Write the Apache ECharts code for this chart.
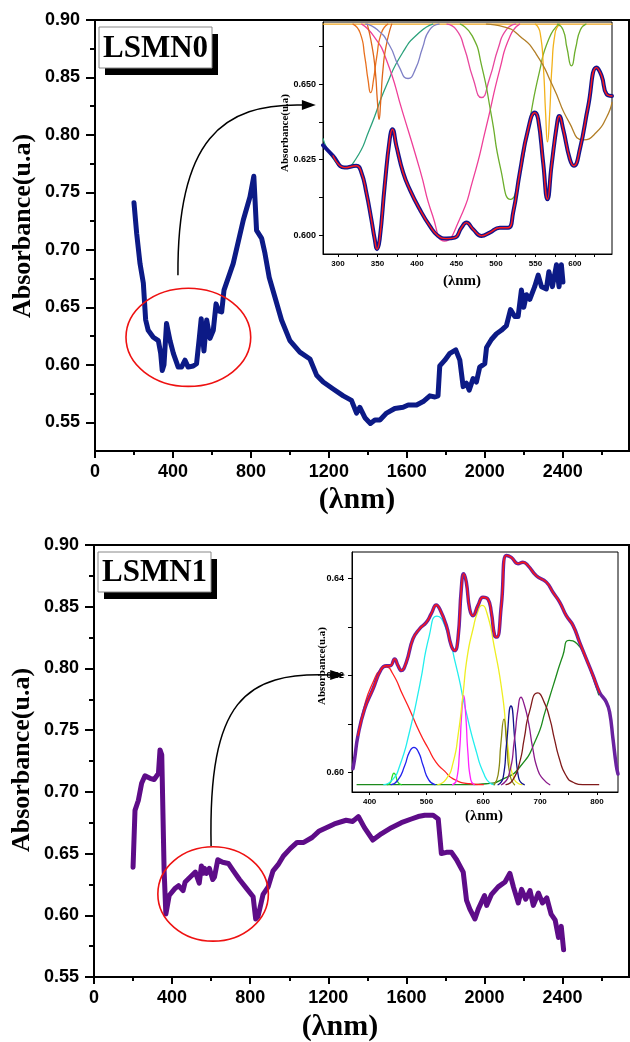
<!DOCTYPE html>
<html><head><meta charset="utf-8">
<script src="https://cdn.jsdelivr.net/npm/echarts@6/dist/echarts.min.js"></script>
<style>html,body{margin:0;padding:0;background:#fff}#c{width:630px;height:1042px}</style>
</head><body><div id="c"></div>
<script>
// ---------------- DATA ----------------
// Main spectrum LSMN0 [lambda nm, absorbance]
const lsmn0 = [[200,0.741],[214,0.714],[231,0.688],[248,0.671],[260,0.639],[273,0.630],[299,0.624],[325,0.621],[337,0.610],[345,0.595],[354,0.600],[367,0.636],[385,0.621],[402,0.610],[427,0.598],[444,0.598],[462,0.604],[478,0.598],[504,0.599],[521,0.601],[535,0.623],[545,0.640],[559,0.612],[573,0.639],[590,0.623],[607,0.630],[621,0.653],[634,0.647],[650,0.646],[662,0.665],[709,0.688],[761,0.726],[795,0.746],[815,0.764],[829,0.717],[855,0.710],[872,0.697],[894,0.676],[923,0.659],[957,0.639],[1000,0.621],[1051,0.611],[1103,0.605],[1137,0.591],[1171,0.585],[1222,0.579],[1274,0.573],[1316,0.569],[1342,0.558],[1359,0.563],[1385,0.554],[1413,0.549],[1436,0.552],[1462,0.552],[1496,0.558],[1538,0.562],[1581,0.563],[1607,0.565],[1650,0.565],[1684,0.568],[1718,0.573],[1744,0.572],[1760,0.573],[1769,0.599],[1795,0.604],[1821,0.610],[1851,0.613],[1872,0.604],[1889,0.581],[1906,0.584],[1920,0.578],[1940,0.588],[1957,0.585],[1974,0.598],[2000,0.601],[2009,0.615],[2034,0.622],[2060,0.627],[2085,0.630],[2111,0.634],[2132,0.648],[2154,0.642],[2171,0.642],[2188,0.665],[2200,0.650],[2214,0.661],[2231,0.657],[2256,0.668],[2274,0.678],[2291,0.668],[2316,0.666],[2329,0.681],[2347,0.668],[2368,0.687],[2381,0.668],[2393,0.687],[2401,0.672]];
// Main spectrum LSMN1
const lsmn1 = [[200,0.639],[210,0.685],[227,0.693],[244,0.707],[261,0.713],[287,0.711],[308,0.710],[313,0.709],[330,0.715],[338,0.734],[347,0.730],[359,0.637],[368,0.601],[374,0.606],[385,0.616],[416,0.622],[433,0.624],[456,0.620],[467,0.627],[493,0.631],[519,0.635],[539,0.626],[550,0.640],[559,0.634],[566,0.638],[576,0.634],[591,0.638],[608,0.629],[617,0.631],[634,0.645],[659,0.643],[688,0.642],[714,0.636],[745,0.629],[780,0.622],[815,0.615],[828,0.597],[840,0.599],[866,0.617],[892,0.623],[917,0.636],[943,0.641],[970,0.648],[1005,0.654],[1040,0.659],[1074,0.659],[1117,0.663],[1151,0.668],[1231,0.674],[1291,0.677],[1325,0.676],[1354,0.680],[1385,0.671],[1428,0.661],[1471,0.666],[1523,0.671],[1574,0.675],[1625,0.678],[1660,0.680],[1694,0.681],[1737,0.681],[1763,0.678],[1779,0.650],[1805,0.651],[1831,0.651],[1857,0.645],[1891,0.635],[1908,0.612],[1925,0.605],[1951,0.597],[1968,0.605],[2000,0.616],[2011,0.608],[2036,0.617],[2070,0.623],[2105,0.627],[2130,0.634],[2148,0.623],[2173,0.610],[2190,0.621],[2211,0.613],[2233,0.620],[2250,0.608],[2276,0.618],[2297,0.610],[2319,0.614],[2341,0.601],[2362,0.596],[2379,0.582],[2393,0.591],[2405,0.572]];

// Inset (LSMN0) measured + fit
const inset0Main = [[281,0.6298],[293.7,0.6263],[308.4,0.6224],[323.2,0.6230],[329.6,0.6208],[335.9,0.6141],[342.2,0.6053],[346.5,0.5987],[349.4,0.5954],[352.8,0.5987],[359.1,0.6163],[365.5,0.6318],[368.9,0.6351],[373.9,0.6296],[382.4,0.6208],[390.8,0.6152],[403.5,0.6086],[416.2,0.6031],[426.7,0.5998],[437.3,0.5989],[447.9,0.5992],[456.3,0.6025],[462.7,0.6042],[471.1,0.6020],[481.7,0.5998],[492.2,0.6009],[504.9,0.6025],[515.5,0.6025],[521.8,0.6075],[530.3,0.6208],[540.8,0.6351],[549.3,0.6406],[553.5,0.6384],[559.8,0.6241],[565.3,0.6119],[570.4,0.6230],[577.6,0.6373],[580.1,0.6395],[585.2,0.6351],[593.6,0.6252],[598.7,0.6230],[606.3,0.6285],[616.9,0.6428],[627.4,0.6555],[633.8,0.6528],[640.1,0.6467],[647,0.6461]];
const inset0Baseline = [[281,0.6699],[647,0.6699]];
const inset0Orange1 = [[319,0.6699],[328,0.6670],[334,0.6590],[338,0.6515],[341.4,0.6472],[345,0.6515],[349,0.6590],[355,0.6670],[363,0.6699]];
const inset0Orange2 = [[337,0.6699],[343,0.6627],[347,0.6550],[350,0.6440],[352,0.6384],[354,0.6440],[357,0.6550],[361,0.6627],[368,0.6699]];
const inset0Lavender = [[335,0.6699],[350,0.6680],[365,0.6630],[377,0.6560],[388.7,0.6519],[398,0.6550],[407,0.6620],[416,0.6680],[428,0.6699]];
const inset0PinkBig = [[330,0.6699],[345,0.6660],[361,0.6583],[382,0.6406],[403.5,0.6219],[420,0.6064],[435,0.5981],[454,0.6053],[471,0.6185],[488,0.6362],[505,0.6550],[518,0.6660],[530,0.6699]];
const inset0PinkSmall = [[438,0.6699],[450,0.6680],[460,0.6620],[471,0.6520],[481.7,0.6456],[492,0.6520],[503,0.6620],[513,0.6680],[525,0.6699]];
const inset0Teal = [[281,0.6320],[295,0.6250],[308.4,0.6224],[322,0.6250],[340,0.6351],[361,0.6494],[382,0.6605],[403,0.6671],[420,0.6699]];
const inset0Green = [[455,0.6699],[470,0.6660],[482,0.6560],[494,0.6400],[506,0.6220],[518.4,0.6119],[530,0.6200],[542,0.6370],[555,0.6540],[567,0.6650],[580,0.6699]];
const inset0Gold = [[550,0.6699],[556,0.6670],[560,0.6560],[563,0.6400],[565.3,0.6309],[568,0.6400],[571,0.6560],[575,0.6670],[581,0.6699]];
const inset0GreenSmall = [[578,0.6699],[585,0.6680],[590,0.6620],[595.7,0.6561],[601,0.6620],[607,0.6680],[614,0.6699]];
const inset0Brown = [[488,0.6699],[510,0.6690],[530,0.6660],[551,0.6600],[572,0.6494],[593,0.6373],[611,0.6316],[627,0.6340],[640,0.6390],[647,0.6440]];

// Inset (LSMN1) measured + fit
const inset1Main = [[370.7,0.6008],[373.6,0.6028],[379.5,0.6076],[391.2,0.6131],[405.9,0.6172],[420.5,0.6213],[429.3,0.6220],[436.4,0.6220],[444,0.6234],[449.9,0.6220],[455.7,0.6210],[464.5,0.6227],[476.2,0.6275],[488,0.6296],[499.7,0.6309],[508.5,0.6327],[517.3,0.6345],[523.2,0.6337],[534.9,0.6303],[543.7,0.6261],[549.6,0.6251],[555.4,0.6275],[561.3,0.6378],[565.4,0.6409],[570.1,0.6392],[576,0.6337],[581.8,0.6323],[590.6,0.6344],[599.4,0.6361],[608.2,0.6357],[614.1,0.6330],[619.9,0.6282],[624,0.6279],[631.7,0.6344],[640.5,0.6447],[649.3,0.6443],[661,0.6430],[669.8,0.6433],[678.6,0.6426],[693.3,0.6405],[710.9,0.6392],[722.6,0.6371],[734.3,0.6351],[746,0.6323],[757.8,0.6303],[769.5,0.6268],[781.2,0.6234],[793,0.6200],[804.7,0.6165],[816.4,0.6145],[822.3,0.6124],[828.2,0.6069],[834,0.6014],[837,0.5997]];
const inset1Red = [[380,0.6076],[391,0.6138],[406,0.6186],[420,0.6213],[429,0.6217],[440,0.6205],[459,0.6158],[470,0.6131],[488,0.6083],[503,0.6050],[517,0.6021],[532,0.6003],[547,0.5987],[576,0.5977],[600,0.5975]];
const inset1GreenSmall = [[432,0.5975],[437,0.5980],[440,0.5993],[442.8,0.5999],[446,0.5993],[450,0.5980],[456,0.5975]];
const inset1Blue = [[438,0.5975],[450,0.5985],[462,0.6015],[470,0.6042],[478,0.6052],[486,0.6042],[494,0.6015],[504,0.5985],[515,0.5975]];
const inset1Cyan = [[425,0.5975],[440,0.5985],[453,0.6014],[470,0.6083],[488,0.6179],[505,0.6282],[518.5,0.6322],[533,0.6300],[552,0.6220],[570,0.6124],[588,0.6042],[600,0.6000],[612,0.5978],[620,0.5975]];
const inset1Magenta = [[546,0.5975],[553,0.5985],[558,0.6040],[562,0.6120],[565.4,0.6159],[569,0.6120],[573,0.6040],[578,0.5985],[584,0.5975]];
const inset1Yellow = [[520,0.5975],[535,0.5987],[547,0.6021],[556,0.6080],[564,0.6158],[572,0.6240],[582,0.6296],[590,0.6330],[597.7,0.6344],[606,0.6330],[619,0.6261],[634,0.6158],[643,0.6055],[654,0.5987],[668,0.5975]];
const inset1Olive = [[619,0.5975],[626,0.5995],[631,0.6060],[636.4,0.6110],[641,0.6060],[647,0.5995],[655,0.5975]];
const inset1Navy = [[626,0.5975],[635,0.5990],[641,0.6060],[648.7,0.6137],[656,0.6060],[662,0.5990],[672,0.5975]];
const inset1Purple = [[632,0.5975],[645,0.5995],[655,0.6070],[661,0.6130],[666.3,0.6155],[672,0.6140],[680,0.6100],[687,0.6050],[696,0.6005],[705,0.5987],[717,0.5975]];
const inset1Maroon = [[640,0.5975],[652,0.5985],[664,0.6021],[672,0.6070],[681,0.6124],[696,0.6164],[707,0.6145],[717,0.6111],[725,0.6070],[734,0.6028],[745,0.5995],[758,0.5980],[775,0.5975],[803,0.5975]];
const inset1Green = [[378,0.5975],[560,0.5975],[605,0.5977],[635,0.5987],[664,0.6011],[693,0.6069],[710,0.6130],[723,0.6179],[740,0.6241],[751,0.6272],[765,0.6265],[778,0.6240],[790,0.6205],[803,0.6160]];

// Tick labels / tick positions
const mainXLabels = [0,400,800,1200,1600,2000,2400];
const mainXMinor = [200,600,1000,1400,1800,2200,2600];
const top_YLabels = [0.55,0.60,0.65,0.70,0.75,0.80,0.85,0.90];
const top_YMinor = [0.575,0.625,0.675,0.725,0.775,0.825,0.875];
const bot_YLabels = [0.55,0.60,0.65,0.70,0.75,0.80,0.85,0.90];
const bot_YMinor = [0.575,0.625,0.675,0.725,0.775,0.825,0.875];
const in0XLabels = [300,350,400,450,500,550,600];
const in0XTicks = [300,325,350,375,400,425,450,475,500,525,550,575,600,625];
const in0YLabels = [0.600,0.625,0.650];
const in0YTicks = [0.6,0.6125,0.625,0.6375,0.65,0.6625];
const in1XLabels = [400,500,600,700,800];
const in1XTicks = [400,450,500,550,600,650,700,750,800];
const in1YLabels = [0.60,0.62,0.64];
const in1YTicks = [0.60,0.61,0.62,0.63,0.64];

// ---------------- CHART ----------------
const SANS = '"Liberation Sans", Arial, sans-serif';
const SERIF = '"Liberation Serif", "Times New Roman", serif';
const chart = echarts.init(document.getElementById('c'));

function xAxisCfg(grid, min, max, ticks, tlen, labels, fs, margin, lw, fmt){
  return {type:'value', gridIndex:grid, min:min, max:max, position:'bottom',
    axisLine:{show: !!labels, onZero:false, lineStyle:{color:'#000', width:lw}},
    axisTick:{show:true, inside:false, length:tlen, customValues:ticks, lineStyle:{color:'#000', width:lw}},
    axisLabel:labels ? {show:true, customValues:labels, fontFamily:SANS, fontWeight:'bold', fontSize:fs, color:'#000', margin:margin, formatter:fmt} : {show:false},
    splitLine:{show:false}};
}
function yAxisCfg(grid, min, max, ticks, tlen, labels, fs, margin, lw, fmt){
  return {type:'value', gridIndex:grid, min:min, max:max, position:'left',
    axisLine:{show: !!labels, onZero:false, lineStyle:{color:'#000', width:lw}},
    axisTick:{show:true, inside:false, length:tlen, customValues:ticks, lineStyle:{color:'#000', width:lw}},
    axisLabel:labels ? {show:true, customValues:labels, fontFamily:SANS, fontWeight:'bold', fontSize:fs, color:'#000', margin:margin, formatter:fmt} : {show:false},
    splitLine:{show:false}};
}
const f0 = v => String(Math.round(v));
const f2 = v => (+v).toFixed(2);
const f3 = v => (+v).toFixed(3);

const option = {
  animation:false,
  backgroundColor:'#fff',
  grid:[
    {left:95, top:20, width:534, height:431, show:true, borderColor:'#000', borderWidth:2, backgroundColor:'transparent'},
    {left:323, top:22, width:289, height:232, show:true, borderColor:'#000', borderWidth:1, backgroundColor:'transparent'},
    {left:94, top:545, width:535, height:432, show:true, borderColor:'#000', borderWidth:2, backgroundColor:'transparent'},
    {left:352, top:552, width:266, height:240, show:true, borderColor:'#000', borderWidth:1, backgroundColor:'transparent'}
  ],
  xAxis:[
    xAxisCfg(0, 0, 2740, mainXLabels, 7, mainXLabels, 18, 12, 2, f0),
    xAxisCfg(0, 0, 2740, mainXMinor, 4, null, 18, 12, 2, f0),
    xAxisCfg(1, 281, 647, in0XTicks, 3, in0XLabels, 8, 6, 1, f0),
    xAxisCfg(2, 0, 2740, mainXLabels, 7, mainXLabels, 18, 12, 2, f0),
    xAxisCfg(2, 0, 2740, mainXMinor, 4, null, 18, 12, 2, f0),
    xAxisCfg(3, 369, 837, in1XTicks, 3, in1XLabels, 8, 6, 1, f0)
  ],
  yAxis:[
    yAxisCfg(0, 0.525, 0.90, top_YLabels, 9, top_YLabels, 18, 15, 2, f2),
    yAxisCfg(0, 0.525, 0.90, top_YMinor, 5, null, 18, 15, 2, f2),
    yAxisCfg(1, 0.5938, 0.6706, in0YTicks, 4, in0YLabels, 9, 7, 1, f3),
    yAxisCfg(2, 0.55, 0.90, bot_YLabels, 9, bot_YLabels, 18, 15, 2, f2),
    yAxisCfg(2, 0.55, 0.90, bot_YMinor, 5, null, 18, 15, 2, f2),
    yAxisCfg(3, 0.5960, 0.6454, in1YTicks, 4, in1YLabels, 9, 8, 1, f2)
  ],
  series:[]
};
function line(data, xi, yi, color, width, smooth, z){
  return {type:'line', data:data, xAxisIndex:xi, yAxisIndex:yi, symbol:'none', showSymbol:false,
    smooth:smooth, z:z||2, silent:true,
    lineStyle:{color:color, width:width, cap:'round', join:'round'}};
}
option.series.push(line(lsmn0, 0, 0, '#0c1a86', 5, false, 3));
option.series.push(line(lsmn1, 3, 3, '#5e0c88', 5, false, 3));
// top inset components
[[inset0Baseline,'#f0a51e'],[inset0Teal,'#2ca27c'],[inset0PinkBig,'#ee3f98'],[inset0PinkSmall,'#e8489e'],
 [inset0Orange1,'#e8701e'],[inset0Orange2,'#de661a'],[inset0Lavender,'#7f80c6'],[inset0Green,'#6cae2c'],
 [inset0Gold,'#f2b21c'],[inset0GreenSmall,'#6cae2c'],[inset0Brown,'#b27e26']].forEach(function(c){
  option.series.push(line(c[0], 2, 2, c[1], 1.3, 0.6, 2));
});
option.series.push(line(inset0Main, 2, 2, '#14148c', 4, 0.5, 4));
option.series.push(line(inset0Main.filter(p => p[0] >= 285), 2, 2, '#ff1a1a', 1.4, 0.5, 5));
// bottom inset components
[[inset1Green,'#1c8a1c'],[inset1Red,'#ff2020'],[inset1GreenSmall,'#22dd22'],[inset1Blue,'#2222ee'],
 [inset1Cyan,'#22eeee'],[inset1Magenta,'#ff22ff'],[inset1Yellow,'#eeee22'],[inset1Olive,'#888811'],
 [inset1Navy,'#11118a'],[inset1Purple,'#8a1a8a'],[inset1Maroon,'#801a1a']].forEach(function(c){
  option.series.push(line(c[0], 5, 5, c[1], 1.3, 0.6, 2));
});
option.series.push(line(inset1Main, 5, 5, '#6a22a0', 3.5, 0.5, 4));
option.series.push(line(inset1Main.filter(p => p[0] >= 376 && p[0] <= 810), 5, 5, '#ff1414', 1.4, 0.5, 5));

chart.setOption(option);

// ---------------- ANNOTATIONS (anchored in data space) ----------------
const ellipse0 = {cx:479, cy:0.6239, rx:320, ry:0.0427};
const ellipse1 = {cx:610, cy:0.6173, rx:283, ry:0.0382};
const arrow0 = {p0:[425.6,0.6779], c1:[420.5,0.7955], c2:[651.3,0.8277], p3:[1066.7,0.826], tip:[1133,0.826], b1:[1061.5,0.8303], b2:[1061.5,0.8216]};
const arrow1 = {p0:[599.7,0.6561], c1:[584.3,0.7744], c2:[774,0.7971], p3:[1209.6,0.7947], tip:[1286.5,0.7947], b1:[1209.6,0.7988], b2:[1209.6,0.7907]};

function px(ai, v){ return chart.convertToPixel({xAxisIndex:ai, yAxisIndex:ai}, v); }
function ellipseEl(ai, e){
  const c = px(ai, [e.cx, e.cy]); const o = px(ai, [e.cx + e.rx, e.cy + e.ry]);
  return {type:'ellipse', z:20, silent:true, shape:{cx:c[0], cy:c[1], rx:o[0]-c[0], ry:c[1]-o[1]}, style:{fill:null, stroke:'#ee1111', lineWidth:1.6}};
}
function arrowEls(ai, a){
  const p0 = px(ai,a.p0), c1 = px(ai,a.c1), c2 = px(ai,a.c2), p3 = px(ai,a.p3), t = px(ai,a.tip), b1 = px(ai,a.b1), b2 = px(ai,a.b2);
  return [
    {type:'bezierCurve', z:20, silent:true, shape:{x1:p0[0], y1:p0[1], cpx1:c1[0], cpy1:c1[1], cpx2:c2[0], cpy2:c2[1], x2:p3[0], y2:p3[1]}, style:{fill:null, stroke:'#000', lineWidth:1.5}},
    {type:'polygon', z:20, silent:true, shape:{points:[t, b1, b2]}, style:{fill:'#000'}}
  ];
}
function labelBox(x, y, w, h, txt){
  return [
    {type:'rect', z:30, silent:true, shape:{x:x+6, y:y+7, width:w, height:h}, style:{fill:'#000'}},
    {type:'rect', z:31, silent:true, shape:{x:x, y:y, width:w, height:h}, style:{fill:'#fff', stroke:'#888', lineWidth:1}},
    {type:'text', z:32, silent:true, x:x + w/2, y:y + h/2 + 1, style:{text:txt, fontFamily:SERIF, fontWeight:'bold', fontSize:31, fill:'#000', align:'center', verticalAlign:'middle'}}
  ];
}
function textEl(x, y, txt, fs, rot){
  return {type:'text', z:25, silent:true, x:x, y:y, rotation:rot||0, style:{text:txt, fontFamily:SERIF, fontWeight:'bold', fontSize:fs, fill:'#000', align:'center', verticalAlign:'middle'}};
}

const graphic = [].concat(
  [ellipseEl(0, ellipse0), ellipseEl(3, ellipse1)],
  arrowEls(0, arrow0), arrowEls(3, arrow1),
  labelBox(99, 27, 113, 41, 'LSMN0'),
  labelBox(98, 552, 113, 40, 'LSMN1'),
  [
    textEl(23, 226, 'Absorbance(u.a)', 26, Math.PI/2),
    textEl(22, 760, 'Absorbance(u.a)', 26, Math.PI/2),
    textEl(357, 500, '(λnm)', 30, 0),
    textEl(340, 1027, '(λnm)', 30, 0),
    textEl(285, 133, 'Absorbance(u.a)', 11, Math.PI/2),
    textEl(322, 666, 'Absorbance(u.a)', 11, Math.PI/2),
    textEl(462, 281, '(λnm)', 15, 0),
    textEl(484, 816, '(λnm)', 15, 0)
  ]
);
chart.setOption({graphic: graphic});
</script>
</body></html>
